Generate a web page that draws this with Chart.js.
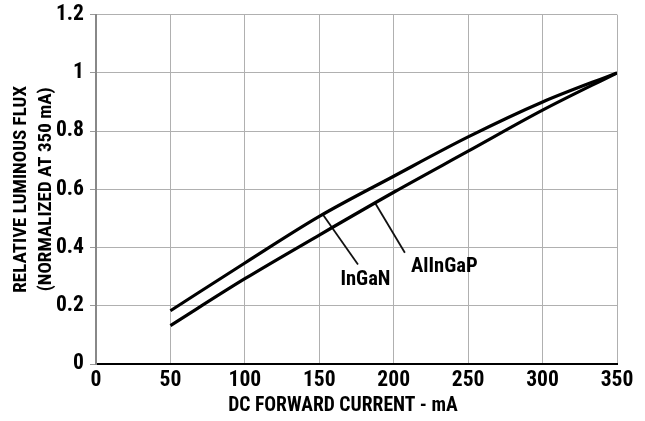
<!DOCTYPE html>
<html>
<head>
<meta charset="utf-8">
<script src="https://cdn.jsdelivr.net/npm/chart.js@4/dist/chart.umd.min.js"></script>
<style>
    body { margin: 0; background: #fff; }
    #contenedor { width: 645px; height: 421px; }
</style>
</head>
<body>
<div id="contenedor"><canvas id="graficoFlujo"></canvas></div>
<script>
// Datos
const corriente = [50, 100, 150, 200, 250, 300, 350];
const flujoInGaN = [0.183, 0.347, 0.507, 0.645, 0.78, 0.9, 1.0];
const flujoAlInGaP = [0.132, 0.293, 0.443, 0.59, 0.731, 0.872, 1.0];

// Lineas de referencia de las etiquetas (x, y en unidades de la grafica)
const lineaInGaN = [{ x: 152.5, y: 0.513 }, { x: 176, y: 0.342 }];
const lineaAlInGaP = [{ x: 187.5, y: 0.553 }, { x: 207.5, y: 0.382 }];
const etiquetas = [
    { texto: 'InGaN', x: 181, y: 0.29 },
    { texto: 'AlInGaP', x: 234, y: 0.334 }
];

const tituloX = 'DC FORWARD CURRENT - mA';
const tituloY = ['RELATIVE LUMINOUS FLUX', '(NORMALIZED AT 350 mA)'];

// Buscar la fuente disponible mas parecida a la condensada del original
function elegirFuente() {
    const candidatas = [
        { peso: 'bold', familia: "'Liberation Sans Narrow'" },
        { peso: 'extra-condensed bold', familia: "'Noto Sans'" },
        { peso: 'condensed bold', familia: "'Noto Sans'" },
        { peso: 'semi-condensed bold', familia: "'Noto Sans'" },
        { peso: 'condensed bold', familia: "'Open Sans'" },
        { peso: 'bold', familia: "'Roboto Condensed'" },
        { peso: 'bold', familia: "'DejaVu Sans Condensed'" },
        { peso: 'bold', familia: "'Liberation Sans'" }
    ];
    const ctx = document.createElement('canvas').getContext('2d');
    let mejor = null;
    candidatas.forEach(c => {
        ctx.font = c.peso + ' 100px ' + c.familia;
        const ancho = ctx.measureText(tituloX).width;
        const alto = ctx.measureText('H').actualBoundingBoxAscent;
        const distancia = Math.abs(ancho / alto - 16.5);
        if (!mejor || distancia < mejor.distancia - 0.05) {
            mejor = { ...c, distancia: distancia, ancho: ancho / 100, alto: alto / 100 };
        }
    });
    // ancho del titulo del eje x en el original: ~230px, sin pasar de ~15px de mayuscula
    mejor.tamano = Math.min(230 / mejor.ancho, 15 / mejor.alto);
    return mejor;
}

const fuente = elegirFuente();

function letra(factor) {
    return { family: fuente.familia, weight: fuente.peso, size: Math.round(fuente.tamano * factor * 10) / 10 };
}

function puntos(valores) {
    return corriente.map((c, i) => ({ x: c, y: valores[i] }));
}

// Plugin para escribir las etiquetas de las curvas
const pluginEtiquetas = {
    id: 'etiquetas',
    afterDatasetsDraw(chart) {
        const ctx = chart.ctx;
        const escalaX = chart.scales.x;
        const escalaY = chart.scales.y;
        const f = letra(1.05);
        ctx.save();
        ctx.font = f.weight + ' ' + f.size + 'px ' + f.family;
        ctx.fillStyle = '#000';
        ctx.textAlign = 'center';
        ctx.textBaseline = 'middle';
        etiquetas.forEach(e => {
            ctx.fillText(e.texto, escalaX.getPixelForValue(e.x), escalaY.getPixelForValue(e.y));
        });
        ctx.restore();
    }
};

new Chart(document.getElementById('graficoFlujo'), {
    type: 'line',
    data: {
        datasets: [
            { label: 'InGaN', data: puntos(flujoInGaN), borderColor: '#000', borderWidth: 3.2, cubicInterpolationMode: 'monotone' },
            { label: 'AlInGaP', data: puntos(flujoAlInGaP), borderColor: '#000', borderWidth: 3.2, cubicInterpolationMode: 'monotone' },
            { label: 'linea InGaN', data: lineaInGaN, borderColor: '#111', borderWidth: 1.8 },
            { label: 'linea AlInGaP', data: lineaAlInGaP, borderColor: '#111', borderWidth: 1.8 }
        ]
    },
    options: {
        responsive: true,
        maintainAspectRatio: false,
        animation: false,
        elements: { point: { radius: 0 } },
        layout: { padding: { top: 12, right: 28, bottom: 0, left: 0 } },
        plugins: {
            legend: { display: false },
            tooltip: { enabled: false }
        },
        scales: {
            x: {
                type: 'linear',
                min: 0,
                max: 350,
                afterFit: escala => { escala.height = 57; },
                ticks: { stepSize: 50, color: '#000', padding: 4, font: letra(1.1) },
                grid: { color: '#b0b0b0', lineWidth: 1, drawTicks: false },
                border: { color: '#000', width: 2 },
                title: {
                    display: true,
                    // espacios al final para correr el titulo a la izquierda como en el original
                    text: tituloX + '\u00a0\u00a0\u00a0\u00a0\u00a0\u00a0',
                    color: '#000',
                    padding: { top: 0, bottom: 3 },
                    font: { ...letra(1), lineHeight: 1.2 }
                }
            },
            y: {
                min: 0,
                max: 1.2,
                afterFit: escala => { escala.width = 96; },
                ticks: {
                    stepSize: 0.2,
                    color: '#000',
                    padding: 6,
                    font: { ...letra(1.1), lineHeight: 0.8 },
                    callback: v => String(Math.round(v * 10) / 10)
                },
                grid: { color: '#b0b0b0', lineWidth: 1, tickLength: 6, tickColor: '#999' },
                border: { color: '#888', width: 2 },
                title: {
                    display: true,
                    text: tituloY,
                    color: '#000',
                    padding: { top: 8.5, bottom: 0 },
                    font: { ...letra(0.97), lineHeight: 25 / (fuente.tamano * 0.97) }
                }
            }
        }
    },
    plugins: [pluginEtiquetas]
});
</script>
</body>
</html>
